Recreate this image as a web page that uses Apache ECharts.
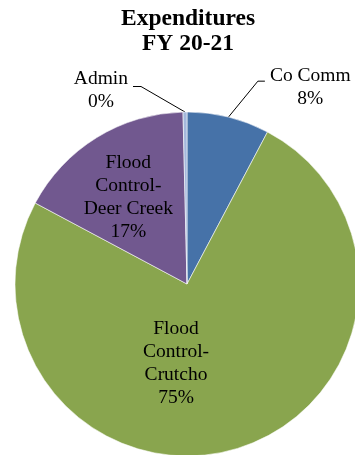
<!DOCTYPE html>
<html>
<head>
<meta charset="utf-8">
<script src="https://cdn.jsdelivr.net/npm/echarts@6/dist/echarts.min.js"></script>
<style>
html,body{margin:0;padding:0;background:#fff;}
#chart{width:355px;height:455px;}
</style>
</head>
<body>
<div id="chart"></div>
<script>
var titleLines = ['Expenditures', 'FY 20-21'];
var categories = ['Co Comm', 'Flood Control-Crutcho', 'Flood Control-Deer Creek', 'Admin'];
var labelTexts = [['Co Comm'], ['Flood', 'Control-', 'Crutcho'], ['Flood', 'Control-', 'Deer Creek'], ['Admin']];
var values = [7.75, 75.05, 16.83, 0.37];
var colors = ['#4672A8', '#89A54E', '#71588F', '#A4B8DC'];

var FONT = 'Liberation Serif';
var insideSet = {1: [-37, -6], 2: [-12, -11]};
var outsideCfg = {0: {stub: 7, pad: 12}, 3: {stub: 8, pad: 8}};

var chart = echarts.init(document.getElementById('chart'), null, {renderer: 'canvas'});

var data = categories.map(function (c, i) {
  var inside = insideSet[i] !== undefined;
  var item = {name: c, value: values[i], itemStyle: {color: colors[i]}};
  if (inside) {
    item.label = {position: 'inside'};
    item.labelLine = {show: false};
  } else {
    item.label = {position: 'outside', padding: [outsideCfg[i].pad, 0, 0, 0]};
    item.labelLine = i === 0 ? {show: true, length: 37, length2: 27.5} : {show: true, length: 25.5, length2: 51.7};
  }
  return item;
});

chart.setOption({
  animation: false,
  textStyle: {fontFamily: FONT},
  title: {
    text: titleLines.join('\n'),
    left: 188,
    top: 6,
    padding: 0,
    textAlign: 'center',
    textStyle: {fontFamily: FONT, fontWeight: 'bold', fontSize: 23.5, lineHeight: 25, color: '#000'}
  },
  series: [{
    type: 'pie',
    center: [187, 284],
    radius: 172,
    startAngle: 90,
    clockwise: true,
    avoidLabelOverlap: false,
    itemStyle: {borderColor: 'rgba(255,255,255,0.7)', borderWidth: 0.8},
    label: {
      color: '#000',
      fontFamily: FONT,
      fontSize: 19.5,
      lineHeight: 23,
      distanceToLabelLine: 5,
      formatter: function (p) {
        var lines = labelTexts[p.dataIndex].concat([Math.round(p.percent) + '%']);
        return lines.map(function (l) { return '{c|' + l + '}'; }).join('\n');
      },
      rich: {c: {align: 'center', color: '#000', fontFamily: FONT, fontSize: 19.5, lineHeight: 23}}
    },
    labelLine: {lineStyle: {color: '#000', width: 1}, smooth: false},
    labelLayout: function (p) {
      var i = p.dataIndex;
      if (insideSet[i] !== undefined) {
        var r = p.labelRect;
        return {x: r.x + r.width / 2 + insideSet[i][0], y: r.y + r.height / 2 + insideSet[i][1]};
      }
      var pts = p.labelLinePoints;
      if (pts && pts.length === 3) {
        var p2 = pts[2];
        var dir = p2[0] > pts[0][0] ? -1 : 1;
        return {labelLinePoints: [pts[0], [p2[0] + dir * outsideCfg[i].stub, p2[1]], p2]};
      }
      return {};
    },
    data: data
  }]
});
</script>
</body>
</html>
